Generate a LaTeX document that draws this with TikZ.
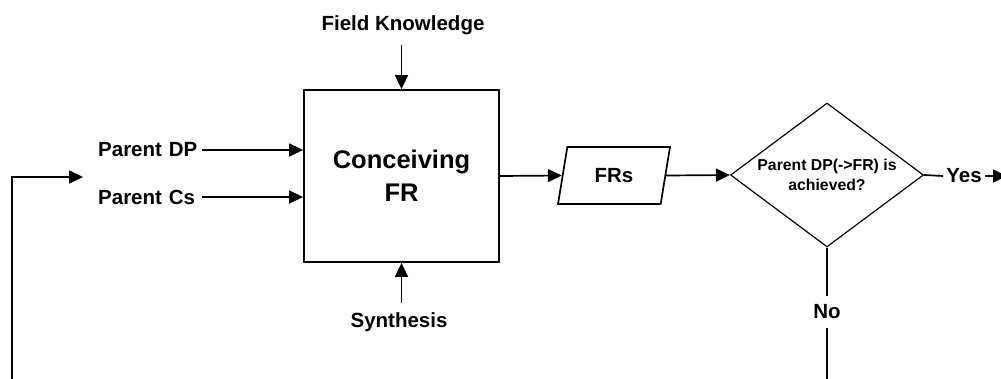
\documentclass[tikz,border=0pt]{standalone}
\usepackage{fontspec}
\setmainfont{Liberation Sans}
\usetikzlibrary{arrows.meta,shapes.geometric}
\begin{document}
\begin{tikzpicture}[x=1pt,y=-1pt,
  lbl/.style={font=\fontsize{20.5}{24}\selectfont\bfseries, inner sep=3pt},
  flow/.style={line width=1.7pt, -{Triangle[length=14pt,width=13pt]}},
  plain/.style={line width=1.7pt},
  procbox/.style={draw, line width=1.8pt, minimum width=195pt, minimum height=172pt,
    align=center, font=\fontsize{25.5}{33}\selectfont\bfseries},
  databox/.style={draw, line width=1.7pt, trapezium, trapezium left angle=66,
    trapezium right angle=114, trapezium stretches body, minimum height=57pt,
    minimum width=112pt, font=\fontsize{20.5}{24}\selectfont\bfseries},
  decision/.style={draw, line width=1.2pt, diamond, aspect=1.34, inner sep=0pt,
    minimum width=193pt, minimum height=144pt, align=center,
    font=\fontsize{15.8}{20}\selectfont\bfseries},
  onl/.style={lbl, fill=white}]
\useasboundingbox (0,0) rectangle (1001,378);

\node[procbox] (box) at (401.5,176) {Conceiving\\FR};
\node[lbl] (fk) at (403,25) {Field Knowledge};
\node[lbl] (syn) at (399,322) {Synthesis};
\node[lbl, anchor=west, text width=101pt, align=left] (pdp) at (95,150) {Parent DP};
\node[lbl, anchor=west, text width=101pt, align=left] (pcs) at (95,197) {Parent Cs};
\node[databox] (frs) at (614,175.5) {FRs};
\node[decision] (dec) at (827,175) {Parent DP(->FR) is\\achieved?};
\node[onl, inner xsep=3pt] (yes) at (964,176) {Yes};
\node[onl, inner xsep=2pt, inner ysep=9pt] (no) at (827,312) {No};

\coordinate (loopbot) at (12,385);
\coordinate (loopend) at (83,177);
\coordinate (yesend) at (1007,176);
\coordinate (nobot) at (827,385);

\draw[flow] (box.north |- fk.south) ++(0,7) -- (box.north);
\draw[flow] (box.south |- syn.north) ++(0,-6) -- (box.south);
\draw[flow] (pdp.east) -- (pdp.east -| box.west);
\draw[flow] (pcs.east) -- (pcs.east -| box.west);
\draw[flow] (loopbot) |- (loopend);
\draw[flow] (box.east) -- (frs.west);
\draw[flow] (frs.east) -- (dec.west);
\draw[plain] (dec.east) -- (yes.west);
\draw[flow] (yes.east) -- (yesend);
\draw[plain] (dec.south) -- (no.north);
\draw[plain] (no.south) -- (nobot);
\end{tikzpicture}
\end{document}
